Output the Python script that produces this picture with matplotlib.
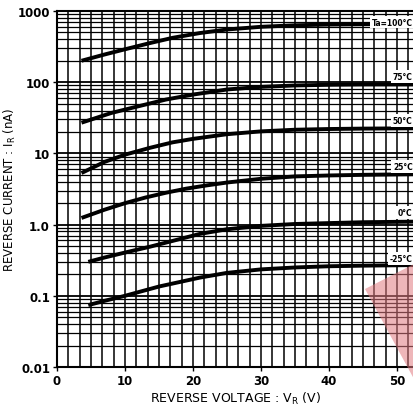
import numpy as np
import matplotlib
matplotlib.use("Agg")
import matplotlib.pyplot as plt
from matplotlib.patches import Polygon

# ---- data ----
v_100 = [3.6, 7, 10, 13.7, 17, 21, 25, 30, 35, 40, 45, 52.5]
i_100 = [200, 245, 290, 355, 420, 490, 550, 600, 630, 645, 652, 658]

v_75 = [3.6, 8, 12, 16, 20, 25, 30, 35, 40, 45, 52.5]
i_75 = [27, 37, 46, 57, 67, 79, 86, 90, 92, 93, 93]

v_50 = [3.6, 7, 10, 13.7, 17, 20, 25, 30, 35, 40, 45, 52.5]
i_50 = [5.3, 7.6, 9.6, 12.0, 14.3, 16.0, 18.6, 20.4, 21.5, 22.0, 22.3, 22.5]

v_25 = [3.6, 7, 10, 13, 16, 19, 22, 25, 30, 35, 40, 45, 52.5]
i_25 = [1.24, 1.62, 2.0, 2.4, 2.8, 3.2, 3.55, 3.9, 4.4, 4.75, 4.9, 5.0, 5.1]

v_0 = [4.6, 7, 10, 13.7, 17, 21, 25, 30, 35, 40, 45, 52.5]
i_0 = [0.30, 0.345, 0.405, 0.49, 0.59, 0.74, 0.86, 0.96, 1.02, 1.05, 1.08, 1.10]

v_m25 = [4.6, 7, 10, 15, 21, 25, 30, 35, 40, 45, 52.5]
i_m25 = [0.074, 0.085, 0.10, 0.135, 0.18, 0.21, 0.235, 0.25, 0.26, 0.265, 0.27]

series = [(v_100, i_100), (v_75, i_75), (v_50, i_50),
          (v_25, i_25), (v_0, i_0), (v_m25, i_m25)]

curve_labels = ["Ta=100°C", "75°C", "50°C", "25°C", "0°C", "-25°C"]
label_y = [700, 120, 29, 6.5, 1.48, 0.33]

x_ticks = [0, 10, 20, 30, 40, 50]
y_ticks = [0.01, 0.1, 1, 10, 100, 1000]
y_ticklabels = ["0.01", "0.1", "1.0", "10", "100", "1000"]

# ---- figure ----
W, H = 414, 410
fig = plt.figure(figsize=(W / 100, H / 100), dpi=100)
ax = fig.add_axes([57 / W, 1 - 368 / H, 1 - 57 / W, (368 - 12) / H])

ax.set_yscale("log")
ax.set_xlim(0, 52.5)
ax.set_ylim(0.01, 1000)

# grid: vertical every 10/6 V, horizontal log 1..9
for xv in np.arange(0, 53, 10 / 6):
    ax.axvline(xv, color="black", lw=1.1, zorder=1)
for dec in range(-2, 3):
    for m in range(1, 10):
        yv = m * 10.0 ** dec
        ax.axhline(yv, color="black", lw=1.3 if m == 1 else 0.9, zorder=1)

for v, i in series:
    ax.plot(v, i, color="black", lw=2.8, solid_capstyle="butt",
            solid_joinstyle="round", zorder=3)

for txt, yv in zip(curve_labels, label_y):
    ax.text(52.3, yv, txt, ha="right", va="center", fontsize=5.5,
            fontweight="bold", color="black", zorder=4,
            bbox=dict(boxstyle="square,pad=0.25", fc="white", ec="none"))

ax.set_xticks(x_ticks)
ax.set_xticklabels([str(t) for t in x_ticks], fontsize=8.5, fontweight="bold")
ax.set_yticks(y_ticks)
ax.set_yticklabels(y_ticklabels, fontsize=8.5, fontweight="bold")
ax.yaxis.set_minor_locator(matplotlib.ticker.NullLocator())
ax.tick_params(axis="both", length=3, width=1, direction="out", pad=2)

for s in ["left", "top", "bottom"]:
    ax.spines[s].set_linewidth(1.5)
ax.spines["right"].set_visible(False)

ax.set_xlabel("REVERSE VOLTAGE : V$_\\mathregular{R}$ (V)", fontsize=9, labelpad=2)
ax.set_ylabel("REVERSE CURRENT : I$_\\mathregular{R}$ (nA)", fontsize=8.5)
ax.yaxis.set_label_coords(-0.108, 0.5)

# pink scan artifact at lower right
tri = Polygon([(365 / W, 1 - 290 / H), (1.0, 1 - 265 / H), (1.0, 1 - 380 / H)],
              closed=True, transform=fig.transFigure, fc="#e07a80", alpha=0.55,
              ec="none", zorder=10)
fig.patches.append(tri)

fig.savefig("out.png", dpi=100)
